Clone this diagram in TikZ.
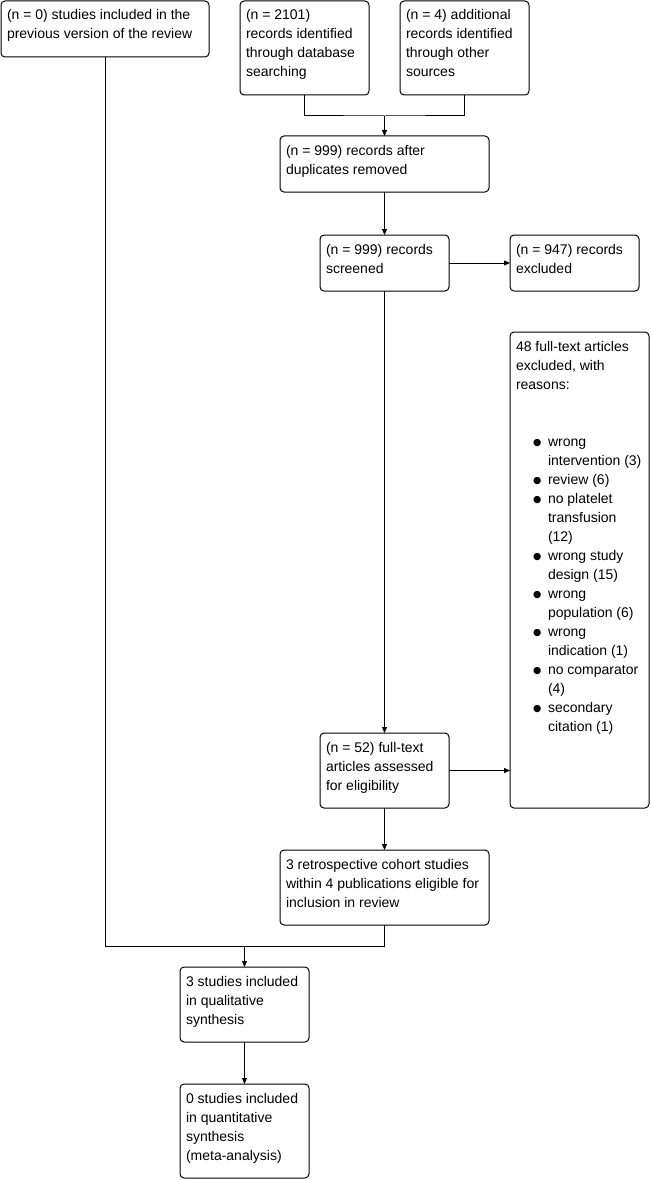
\documentclass[tikz,border=0pt]{standalone}
\usepackage{fontspec}
\setmainfont{Liberation Sans}
\newfontfamily\symfont{DejaVu Sans}
\usetikzlibrary{arrows.meta}
\tikzset{
 box/.style={draw, line width=1pt, rounded corners=4pt, anchor=north west, inner xsep=6pt, inner ysep=0pt, outer sep=0pt},
 flow/.style={line width=1pt},
 arr/.style={flow, -{Triangle[length=6pt,width=5pt]}},
}
\newcommand\fbx[6]{\node[box] (#1) at (#2,#3) {\parbox[t][\dimexpr #5pt-#3pt\relax][t]{\dimexpr #4pt-#2pt-12pt\relax}{\fontsize{14pt}{19pt}\selectfont\raggedright\rule{0pt}{19pt}#6}};}
\newcommand\itm[1]{\\\hspace*{17pt}\makebox[15pt][l]{\raisebox{0.3pt}{\symfont\fontsize{9.5pt}{19pt}\selectfont ●}}\mbox{#1}}
\newcommand\cnt[1]{\\\hspace*{32pt}\mbox{#1}}
\begin{document}
\begin{tikzpicture}[x=1pt,y=-1pt]
\useasboundingbox (0,0) rectangle (651,1180);
\fbx{A}{1}{1}{209}{57}{(n = 0) studies included in the\\previous version of the review}
\fbx{B}{240}{1}{369}{95}{(n = 2101)\\records identified\\through database\\searching}
\fbx{C}{400}{1}{529}{95}{(n = 4) additional\\records identified\\through other\\sources}
\fbx{D}{280}{136}{489}{192}{(n = 999) records after\\duplicates removed}
\fbx{E}{320}{235}{449}{291}{(n = 999) records\\screened}
\fbx{F}{510}{235}{639}{291}{(n = 947) records\\excluded}
\fbx{G}{510}{332}{649}{808}{48 full-text articles\\excluded, with\\reasons:\\\mbox{}\\\mbox{}%
\itm{wrong}\cnt{intervention (3)}%
\itm{review (6)}%
\itm{no platelet}\cnt{transfusion}\cnt{(12)}%
\itm{wrong study}\cnt{design (15)}%
\itm{wrong}\cnt{population (6)}%
\itm{wrong}\cnt{indication (1)}%
\itm{no comparator}\cnt{(4)}%
\itm{secondary}\cnt{citation (1)}}
\fbx{H}{320}{733}{449}{808}{(n = 52) full-text\\articles assessed\\for eligibility}
\fbx{I}{280}{850}{489}{925}{3 retrospective cohort studies\\within 4 publications eligible for\\inclusion in review}
\fbx{J}{180}{967}{309}{1042}{3 studies included\\in qualitative\\synthesis}
\fbx{K}{180}{1084}{309}{1178}{0 studies included\\in quantitative\\synthesis\\(meta-analysis)}
\coordinate (m1) at (D.north |- 0,116);
\draw[flow] (B.south) |- (m1) -| (C.south);
\draw[arr] (m1) -- (D.north);
\draw[arr] (D.south) -- (E.north);
\draw[arr] (E.east) -- (F.west);
\draw[arr] (E.south) -- (H.north);
\draw[arr] (H.east) -- (H.east -| G.west);
\draw[arr] (H.south) -- (I.north);
\coordinate (m2) at (J.north |- 0,946);
\draw[flow] (A.south) |- (m2) -| (I.south);
\draw[arr] (m2) -- (J.north);
\draw[arr] (J.south) -- (K.north);
\end{tikzpicture}
\end{document}
